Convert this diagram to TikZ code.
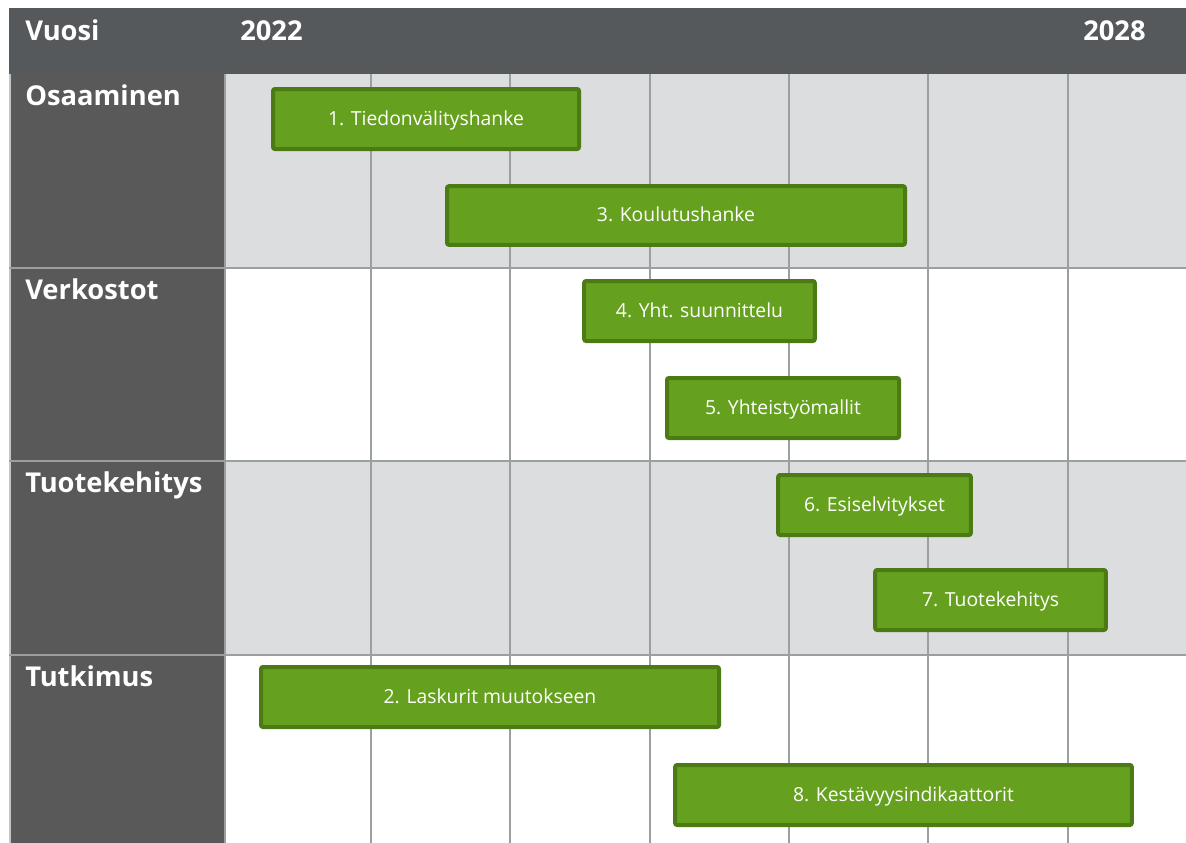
\documentclass[tikz,border=0pt]{standalone}
\usepackage{fontspec}
\setmainfont{Open Sans}
\usepackage{tikz}
\usetikzlibrary{positioning}

\definecolor{headgray}{RGB}{85,89,92}
\definecolor{colgray}{RGB}{89,89,89}
\definecolor{rowgray}{RGB}{220,221,223}
\definecolor{gridgray}{RGB}{154,159,160}
\definecolor{barfill}{RGB}{101,161,30}
\definecolor{barline}{RGB}{76,122,20}

\tikzset{
  headtext/.style={anchor=base west, inner sep=0pt, text=white, font=\fontsize{20.5}{24}\selectfont\bfseries},
  rowtext/.style={anchor=base west, inner sep=0pt, text=white, font=\fontsize{20.5}{24}\selectfont\bfseries},
  gridline/.style={draw=gridgray, line width=1.3pt},
  barbox/.style={draw=barline, line width=3pt, fill=barfill, rounded corners=1.5pt, inner sep=0pt, text=white, text height=9.6pt, text depth=0pt, font=\fontsize{14.5}{17}\selectfont},
}

\begin{document}
\begin{tikzpicture}[x=0.75pt,y=0.75pt,yscale=-1,xscale=1]
\useasboundingbox (0,0) rectangle (1186,843);

%Shape: row backgrounds
\fill [rowgray] (225,74) rectangle (1186,268);
\fill [rowgray] (225,461) rectangle (1186,655);

%Shape: header bar
\fill [headgray] (9,8) rectangle (1186,74);
%Shape: left column
\fill [colgray] (9,74) rectangle (225,843);
\draw [gridgray!60, line width=0.8pt] (10,74) -- (10,843);

%Straight Lines: grid
\foreach \xx in {225,371,510,650,789,928,1068}
  \draw [gridline] (\xx,74) -- (\xx,843);
\foreach \yy in {268,461,655}
  \draw [gridline] (9,\yy) -- (1186,\yy);

% Text Node
\node (vuosi) at (25,40) [headtext] {Vuosi};
% Text Node
\node (yfirst) at (240,40) [headtext] {2022};
% Text Node
\node (ylast) at (1083,40) [headtext] {2028};

% Text Node
\node (osaaminen) at (25,105) [rowtext] {Osaaminen};
% Text Node
\node (verkostot) at (25,299) [rowtext] {Verkostot};
% Text Node
\node (tuotekehitys) at (25,492) [rowtext] {Tuotekehitys};
% Text Node
\node (tutkimus) at (25,686) [rowtext] {Tutkimus};

%Shape: bars
\node (bar1) at (426,119) [barbox, minimum width=229.5pt, minimum height=45pt] {1. Tiedonvälityshanke};
\node (bar3) at (676,215.5) [barbox, minimum width=343.5pt, minimum height=44pt] {3. Koulutushanke};
\node (bar4) at (699.5,311) [barbox, minimum width=173pt, minimum height=45pt] {4. Yht. suunnittelu};
\node (bar5) at (783,408) [barbox, minimum width=174pt, minimum height=45pt] {5. Yhteistyömallit};
\node (bar6) at (874.5,505) [barbox, minimum width=144.5pt, minimum height=45pt] {6. Esiselvitykset};
\node (bar7) at (990.5,600) [barbox, minimum width=173pt, minimum height=45pt] {7. Tuotekehitys};
\node (bar2) at (490,697) [barbox, minimum width=343.5pt, minimum height=45pt] {2. Laskurit muutokseen};
\node (bar8) at (903.5,795) [barbox, minimum width=342.5pt, minimum height=45pt] {8. Kestävyysindikaattorit};

\end{tikzpicture}
\end{document}
